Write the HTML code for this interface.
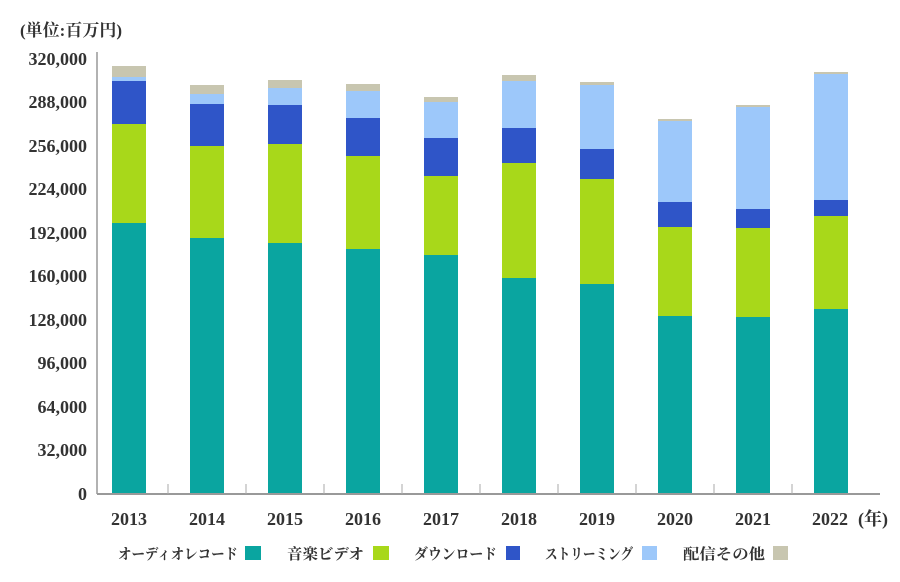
<!DOCTYPE html>
<html><head><meta charset="utf-8"><style>
body{margin:0;background:#fff;}
svg{display:block;font-family:"Liberation Serif","Noto Serif CJK SC",serif;}
</style></head><body>
<svg width="900" height="582" viewBox="0 0 900 582">
<text x="20" y="36" font-size="17" font-weight="bold" fill="#333">(単位:百万円)</text>
<g font-size="18" font-weight="bold" fill="#333" text-anchor="end">
<text x="87" y="65">320,000</text>
<text x="87" y="108">288,000</text>
<text x="87" y="152">256,000</text>
<text x="87" y="195">224,000</text>
<text x="87" y="239">192,000</text>
<text x="87" y="282">160,000</text>
<text x="87" y="326">128,000</text>
<text x="87" y="369">96,000</text>
<text x="87" y="413">64,000</text>
<text x="87" y="456">32,000</text>
<text x="87" y="500">0</text>
</g>
<line x1="97" y1="52" x2="97" y2="494" stroke="#999" stroke-width="1.5"/>
<g>
<rect x="112" y="223" width="34" height="271" fill="#0aa5a0"/><rect x="112" y="124" width="34" height="99" fill="#a8d81a"/><rect x="112" y="81" width="34" height="43" fill="#2f55c8"/><rect x="112" y="77" width="34" height="4" fill="#9dc8fa"/><rect x="112" y="66" width="34" height="11" fill="#c8c6b0"/>
<rect x="190" y="238" width="34" height="256" fill="#0aa5a0"/><rect x="190" y="146" width="34" height="92" fill="#a8d81a"/><rect x="190" y="104" width="34" height="42" fill="#2f55c8"/><rect x="190" y="94" width="34" height="10" fill="#9dc8fa"/><rect x="190" y="85" width="34" height="9" fill="#c8c6b0"/>
<rect x="268" y="243" width="34" height="251" fill="#0aa5a0"/><rect x="268" y="144" width="34" height="99" fill="#a8d81a"/><rect x="268" y="105" width="34" height="39" fill="#2f55c8"/><rect x="268" y="88" width="34" height="17" fill="#9dc8fa"/><rect x="268" y="80" width="34" height="8" fill="#c8c6b0"/>
<rect x="346" y="249" width="34" height="245" fill="#0aa5a0"/><rect x="346" y="156" width="34" height="93" fill="#a8d81a"/><rect x="346" y="118" width="34" height="38" fill="#2f55c8"/><rect x="346" y="91" width="34" height="27" fill="#9dc8fa"/><rect x="346" y="84" width="34" height="7" fill="#c8c6b0"/>
<rect x="424" y="255" width="34" height="239" fill="#0aa5a0"/><rect x="424" y="176" width="34" height="79" fill="#a8d81a"/><rect x="424" y="138" width="34" height="38" fill="#2f55c8"/><rect x="424" y="102" width="34" height="36" fill="#9dc8fa"/><rect x="424" y="97" width="34" height="5" fill="#c8c6b0"/>
<rect x="502" y="278" width="34" height="216" fill="#0aa5a0"/><rect x="502" y="163" width="34" height="115" fill="#a8d81a"/><rect x="502" y="128" width="34" height="35" fill="#2f55c8"/><rect x="502" y="81" width="34" height="47" fill="#9dc8fa"/><rect x="502" y="75" width="34" height="6" fill="#c8c6b0"/>
<rect x="580" y="284" width="34" height="210" fill="#0aa5a0"/><rect x="580" y="179" width="34" height="105" fill="#a8d81a"/><rect x="580" y="149" width="34" height="30" fill="#2f55c8"/><rect x="580" y="85" width="34" height="64" fill="#9dc8fa"/><rect x="580" y="82" width="34" height="3" fill="#c8c6b0"/>
<rect x="658" y="316" width="34" height="178" fill="#0aa5a0"/><rect x="658" y="227" width="34" height="89" fill="#a8d81a"/><rect x="658" y="202" width="34" height="25" fill="#2f55c8"/><rect x="658" y="121" width="34" height="81" fill="#9dc8fa"/><rect x="658" y="119" width="34" height="2" fill="#c8c6b0"/>
<rect x="736" y="317" width="34" height="177" fill="#0aa5a0"/><rect x="736" y="228" width="34" height="89" fill="#a8d81a"/><rect x="736" y="209" width="34" height="19" fill="#2f55c8"/><rect x="736" y="107" width="34" height="102" fill="#9dc8fa"/><rect x="736" y="105" width="34" height="2" fill="#c8c6b0"/>
<rect x="814" y="309" width="34" height="185" fill="#0aa5a0"/><rect x="814" y="216" width="34" height="93" fill="#a8d81a"/><rect x="814" y="200" width="34" height="16" fill="#2f55c8"/><rect x="814" y="74" width="34" height="126" fill="#9dc8fa"/><rect x="814" y="72" width="34" height="2" fill="#c8c6b0"/>
</g>
<line x1="97" y1="494" x2="880" y2="494" stroke="#999" stroke-width="2"/>
<g stroke="#aaa" stroke-width="1">
<line x1="168" y1="484" x2="168" y2="494"/><line x1="246" y1="484" x2="246" y2="494"/><line x1="324" y1="484" x2="324" y2="494"/><line x1="402" y1="484" x2="402" y2="494"/><line x1="480" y1="484" x2="480" y2="494"/><line x1="558" y1="484" x2="558" y2="494"/><line x1="636" y1="484" x2="636" y2="494"/><line x1="714" y1="484" x2="714" y2="494"/><line x1="792" y1="484" x2="792" y2="494"/>
</g>
<g font-size="18" font-weight="bold" fill="#333" text-anchor="middle">
<text x="129" y="525">2013</text><text x="207" y="525">2014</text><text x="285" y="525">2015</text><text x="363" y="525">2016</text><text x="441" y="525">2017</text><text x="519" y="525">2018</text><text x="597" y="525">2019</text><text x="675" y="525">2020</text><text x="753" y="525">2021</text><text x="830" y="525">2022</text>
</g>
<text x="858" y="525" font-size="18" font-weight="bold" fill="#333">(年)</text>
<g font-size="15" font-weight="bold" fill="#333">
<text x="118" y="559" textLength="120" lengthAdjust="spacingAndGlyphs">オーディオレコード</text>
<rect x="245" y="546" width="16" height="14" fill="#0aa5a0"/>
<text x="287" y="559" textLength="77" lengthAdjust="spacingAndGlyphs">音楽ビデオ</text>
<rect x="373" y="546" width="16" height="14" fill="#a8d81a"/>
<text x="414" y="559" textLength="83" lengthAdjust="spacingAndGlyphs">ダウンロード</text>
<rect x="506" y="546" width="14" height="14" fill="#2f55c8"/>
<text x="545" y="559" textLength="88" lengthAdjust="spacingAndGlyphs">ストリーミング</text>
<rect x="642" y="546" width="15" height="14" fill="#9dc8fa"/>
<text x="683" y="559" textLength="82" lengthAdjust="spacingAndGlyphs">配信その他</text>
<rect x="773" y="546" width="15" height="14" fill="#c8c6b0"/>
</g>
</svg>
</body></html>
